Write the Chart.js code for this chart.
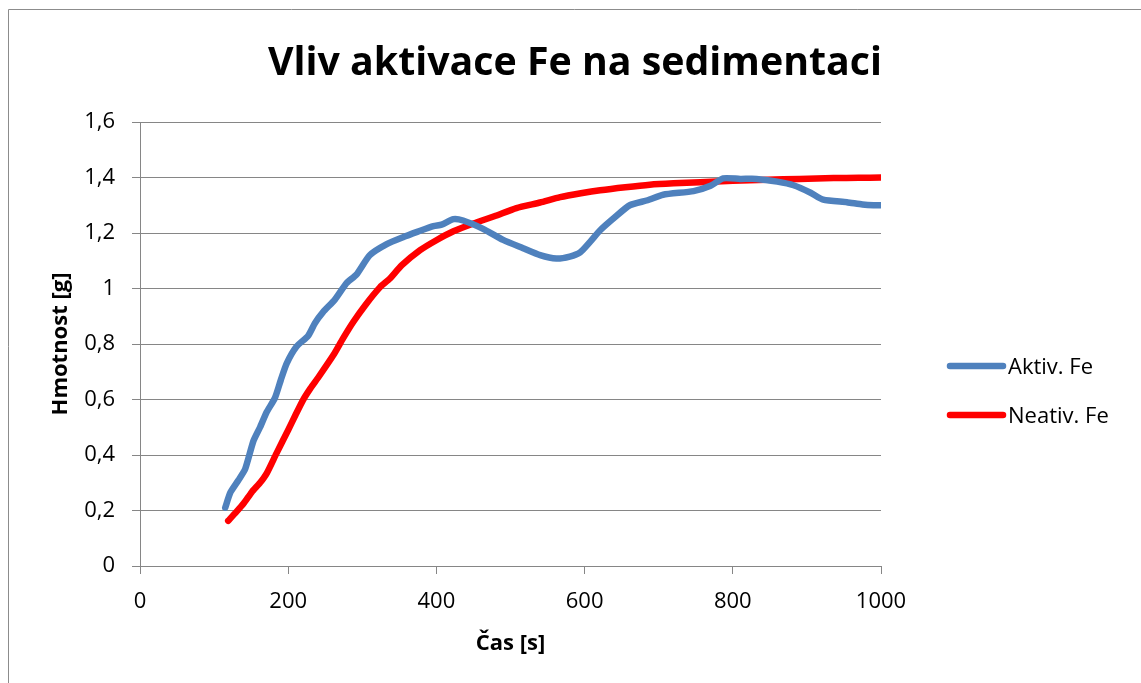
<!DOCTYPE html>
<html><head><meta charset="utf-8">
<script src="https://cdn.jsdelivr.net/npm/chart.js@4"></script>
<style>html,body{margin:0;padding:0;background:#fff;overflow:hidden}#wrap{width:1141px;height:683px;position:relative}canvas{display:block}</style>
</head><body><div id="wrap"><canvas id="c" width="1141" height="683"></canvas></div>
<script>
const chartTitle = 'Vliv aktivace Fe na sedimentaci';
const xAxisTitle = 'Čas [s]';
const yAxisTitle = 'Hmotnost [g]';
const seriesNames = ['Aktiv. Fe', 'Neativ. Fe'];
const seriesColors = ['#4F81BD', '#FF0000'];

const aktivX = [115,122,133,142,153,162,171,182,190,198,211,227,236,247,263,279,292,310,333,355,375,396,407,423,436,463,490,517,540,562,580,594,608,621,640,661,685,706,747,770,787,810,832,860,882,905,922,954,975,990,1000];
const aktivY = [0.21,0.265,0.31,0.35,0.45,0.50,0.555,0.605,0.67,0.73,0.79,0.83,0.875,0.915,0.96,1.02,1.05,1.12,1.16,1.185,1.205,1.225,1.23,1.25,1.245,1.215,1.175,1.145,1.12,1.108,1.115,1.13,1.17,1.21,1.255,1.30,1.318,1.338,1.351,1.37,1.397,1.395,1.395,1.385,1.372,1.345,1.32,1.311,1.303,1.30,1.30];

const neativX = [119,130,140,151,162,171,184,200,210,220,230,241,261,274,288,304,324,337,353,378,400,423,450,480,508,540,567,595,621,655,688,720,756,800,846,890,936,970,1000];
const neativY = [0.163,0.195,0.226,0.267,0.30,0.334,0.405,0.49,0.545,0.598,0.64,0.681,0.76,0.82,0.88,0.94,1.005,1.035,1.083,1.138,1.174,1.206,1.234,1.262,1.29,1.31,1.329,1.343,1.354,1.365,1.374,1.379,1.383,1.388,1.392,1.395,1.398,1.399,1.40];

const xTicks = [0,200,400,600,800,1000];
const yTicks = [0,0.2,0.4,0.6,0.8,1.0,1.2,1.4,1.6];
const yTickLabels = ['0','0,2','0,4','0,6','0,8','1','1,2','1,4','1,6'];

const FONT = '"Open Sans", "DejaVu Sans", sans-serif';
const GRID = '#868686';

function toPoints(xs, ys){ return xs.map((x,i)=>({x:x, y:ys[i]})); }

const decor = {
  id:'decor',
  afterDraw(chart){
    const ctx = chart.ctx;
    ctx.save();
    ctx.strokeStyle = '#8c8c8c'; ctx.lineWidth = 1;
    ctx.beginPath(); ctx.moveTo(8.5, 683); ctx.lineTo(8.5, 9.5); ctx.lineTo(1141, 9.5); ctx.stroke();
    ctx.font = 'bold 100px ' + FONT;
    const w = ctx.measureText(chartTitle).width;
    const size = 100 * 614 / w;
    ctx.font = 'bold ' + size.toFixed(2) + 'px ' + FONT;
    ctx.fillStyle = '#000'; ctx.textAlign = 'center'; ctx.textBaseline = 'alphabetic';
    ctx.fillText(chartTitle, 575, 75);
    const ys = [366, 415];
    chart.data.datasets.forEach((ds, i) => {
      ctx.strokeStyle = ds.borderColor; ctx.lineWidth = 6.5; ctx.lineCap = 'round';
      ctx.beginPath(); ctx.moveTo(950, ys[i]); ctx.lineTo(1003, ys[i]); ctx.stroke();
      ctx.fillStyle = '#000'; ctx.font = '22px ' + FONT; ctx.textAlign = 'left'; ctx.textBaseline = 'middle';
      ctx.fillText(ds.label, 1008, ys[i] + 2);
    });
    ctx.restore();
  }
};

new Chart(document.getElementById('c'), {
  type: 'scatter',
  data: {
    datasets: [
      { label: seriesNames[0], data: toPoints(aktivX, aktivY), borderColor: seriesColors[0], backgroundColor: seriesColors[0] },
      { label: seriesNames[1], data: toPoints(neativX, neativY), borderColor: seriesColors[1], backgroundColor: seriesColors[1] }
    ]
  },
  options: {
    responsive: false, animation: false, devicePixelRatio: 1,
    showLine: true,
    elements: {
      point: { radius: 0, hoverRadius: 0 },
      line: { borderWidth: 6.5, tension: 0.2, borderCapStyle: 'round', borderJoinStyle: 'round', fill: false }
    },
    layout: { padding: { left: 40, right: 260, top: 122, bottom: 10 } },
    plugins: { legend: { display: false }, title: { display: false }, tooltip: { enabled: false } },
    scales: {
      x: {
        type: 'linear', min: 0, max: 1000,
        afterBuildTicks: s => { s.ticks = xTicks.map(v => ({ value: v })); },
        afterFit: s => { s.height = 107; },
        ticks: { color: '#000', font: { family: FONT, size: 22 }, padding: 15, maxRotation: 0, autoSkip: false, callback: v => String(v) },
        grid: { drawOnChartArea: false, drawTicks: true, tickLength: 8, color: GRID },
        border: { display: true, color: GRID, width: 1 },
        title: { display: true, text: xAxisTitle, color: '#000', font: { family: FONT, size: 22, weight: 'bold' }, padding: { top: 0, bottom: 16 } }
      },
      y: {
        type: 'linear', min: 0, max: 1.6,
        afterBuildTicks: s => { s.ticks = yTicks.map(v => ({ value: v })); },
        afterFit: s => { s.width = 100; },
        ticks: { color: '#000', font: { family: FONT, size: 22 }, padding: 17, autoSkip: false, callback: (v, i) => yTickLabels[i] },
        grid: { drawTicks: true, tickLength: 8, color: GRID },
        border: { display: true, color: GRID, width: 1 },
        title: { display: true, text: yAxisTitle, color: '#000', font: { family: FONT, size: 22, weight: 'bold' }, padding: { top: 8, bottom: 0 } }
      }
    }
  },
  plugins: [decor]
});
</script></body></html>
